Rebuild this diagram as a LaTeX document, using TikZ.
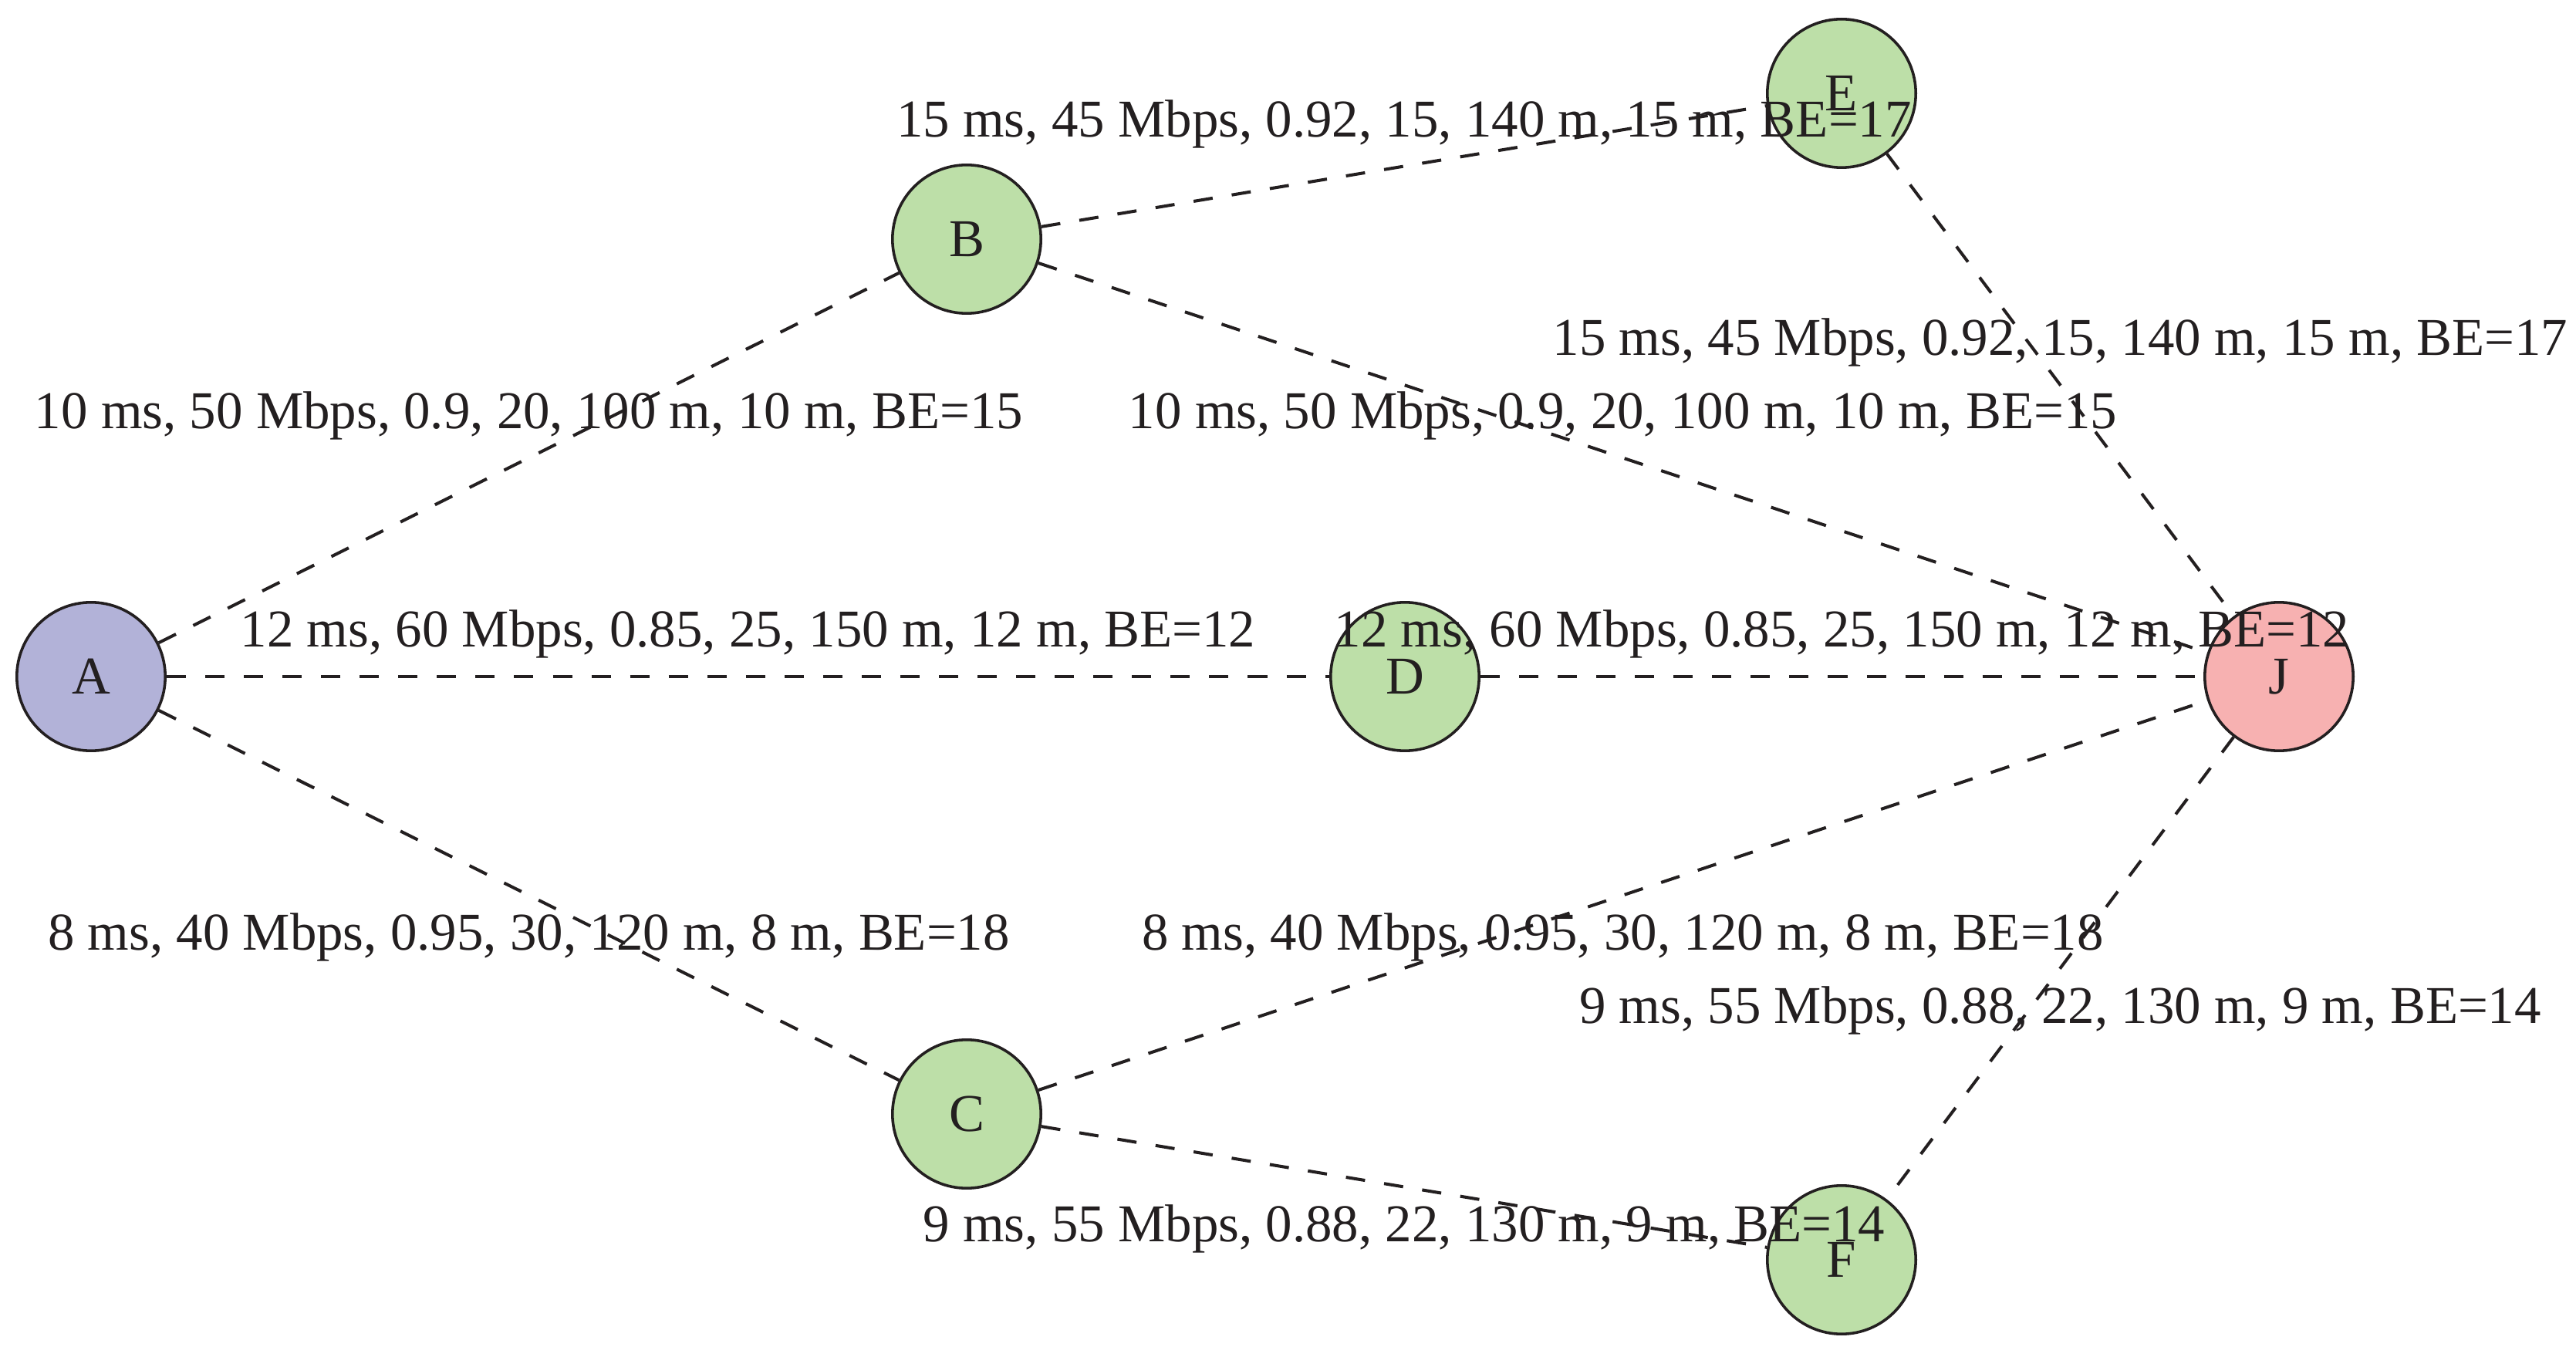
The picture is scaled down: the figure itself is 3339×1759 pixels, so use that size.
\documentclass[tikz,border=0pt]{standalone}
\usepackage{fontspec}
\setmainfont{Liberation Serif}
\definecolor{srcc}{RGB}{178,178,216}
\definecolor{midc}{RGB}{189,223,168}
\definecolor{dstc}{RGB}{247,177,177}
\definecolor{ink}{RGB}{35,31,32}
\begin{document}
\begin{tikzpicture}[x=0.153846pt,y=-0.153846pt,
  vtx/.style={circle,draw=ink,text=ink,line width=0.55pt,minimum size=29.6pt,inner sep=0pt,font=\fontsize{10.6}{12}\selectfont},
  lnk/.style={draw=ink,dash pattern=on 3.85pt off 3.85pt,line width=0.62pt},
  lab/.style={text=ink,font=\fontsize{10.6}{12}\selectfont,inner sep=3.33pt}]
\path[use as bounding box] (0,0) rectangle (3339,1759);
\node[vtx,fill=srcc] (A) at (118,877) {A};
\node[vtx,fill=midc] (B) at (1253,310) {B};
\node[vtx,fill=midc] (C) at (1253,1444) {C};
\node[vtx,fill=midc] (D) at (1821,877) {D};
\node[vtx,fill=midc] (E) at (2387,121) {E};
\node[vtx,fill=midc] (F) at (2387,1633) {F};
\node[vtx,fill=dstc] (J) at (2954,877) {J};
\draw[lnk] (A) -- node[lab,above]{10 ms, 50 Mbps, 0.9, 20, 100 m, 10 m, BE=15} (B);
\draw[lnk] (A) -- node[lab,above]{12 ms, 60 Mbps, 0.85, 25, 150 m, 12 m, BE=12} (D);
\draw[lnk] (A) -- node[lab,below]{8 ms, 40 Mbps, 0.95, 30, 120 m, 8 m, BE=18} (C);
\draw[lnk] (B) -- node[lab,above]{15 ms, 45 Mbps, 0.92, 15, 140 m, 15 m, BE=17} (E);
\draw[lnk] (B) -- node[lab,above]{10 ms, 50 Mbps, 0.9, 20, 100 m, 10 m, BE=15} (J);
\draw[lnk] (E) -- node[lab,above]{15 ms, 45 Mbps, 0.92, 15, 140 m, 15 m, BE=17} (J);
\draw[lnk] (D) -- node[lab,above]{12 ms, 60 Mbps, 0.85, 25, 150 m, 12 m, BE=12} (J);
\draw[lnk] (C) -- node[lab,below]{8 ms, 40 Mbps, 0.95, 30, 120 m, 8 m, BE=18} (J);
\draw[lnk] (C) -- node[lab,below]{9 ms, 55 Mbps, 0.88, 22, 130 m, 9 m, BE=14} (F);
\draw[lnk] (J) -- node[lab,below]{9 ms, 55 Mbps, 0.88, 22, 130 m, 9 m, BE=14} (F);
\end{tikzpicture}
\end{document}
